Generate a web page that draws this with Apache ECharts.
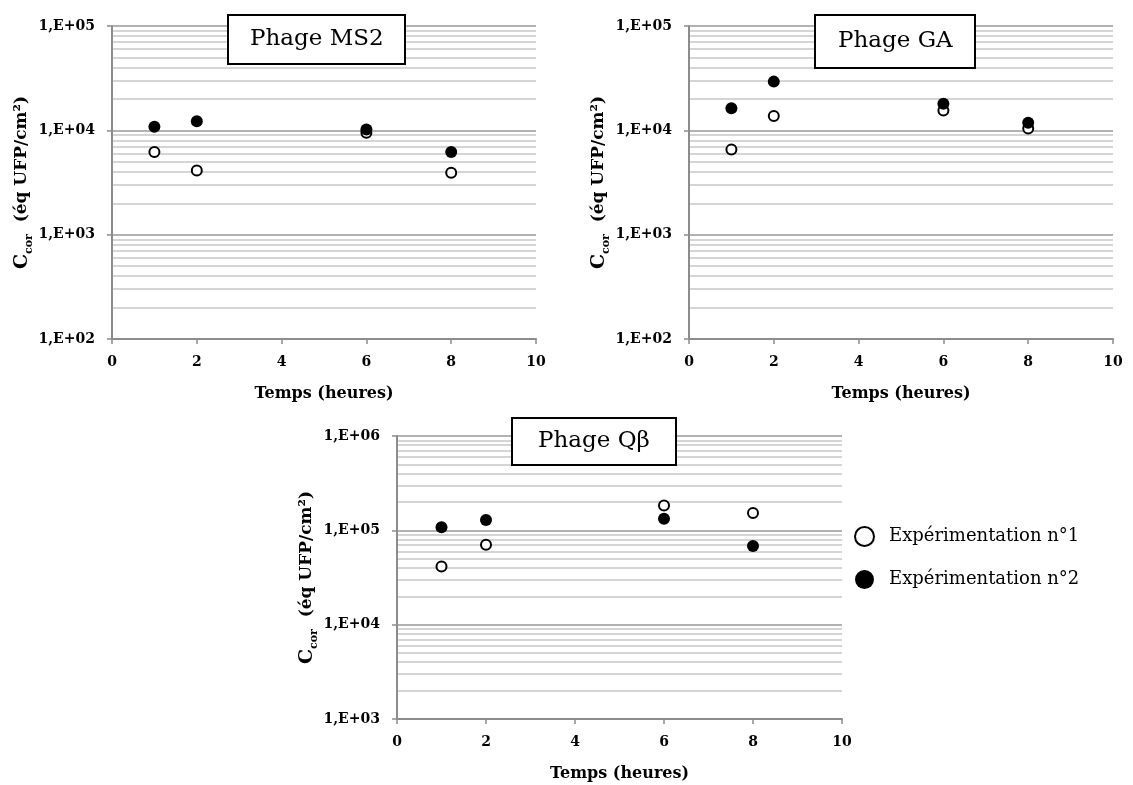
<!DOCTYPE html>
<html>
<head>
<meta charset="utf-8">
<script src="https://cdn.jsdelivr.net/npm/echarts@6/dist/echarts.min.js"></script>
<style>
  html, body { margin: 0; padding: 0; background: #fff; }
  #chart { width: 1133px; height: 785px; }
</style>
</head>
<body>
<div id="chart"></div>
<script>
// ---- data ----
const hours = [1, 2, 6, 8];
const seriesNames = ['Expérimentation n°1', 'Expérimentation n°2'];
const panelTitles = ['Phage MS2', 'Phage GA', 'Phage Qβ'];
const xAxisTitle = 'Temps (heures)';
const ms2Exp1 = [6200, 4130, 9500, 3930];
const ms2Exp2 = [10800, 12200, 10200, 6200];
const gaExp1 = [6560, 13700, 15500, 10400];
const gaExp2 = [16300, 29300, 18000, 11800];
const qbExp1 = [41400, 70500, 183000, 153000];
const qbExp2 = [108000, 129000, 133000, 68100];
const yRanges = [[1e2, 1e5], [1e2, 1e5], [1e3, 1e6]];

const FONT = 'DejaVu Serif';
const grids = [
  { left: 112, top: 26, width: 424, height: 313 },
  { left: 689, top: 26, width: 424, height: 313 },
  { left: 397, top: 436, width: 445, height: 283 }
];

function yLabel(v) {
  const e = Math.round(Math.log10(v));
  return '1,E+' + (e < 10 ? '0' : '') + e;
}

const xAxes = grids.map((g, i) => ({
  type: 'value', gridIndex: i, min: 0, max: 10, interval: 2,
  axisLine: { show: true, onZero: false, lineStyle: { color: '#8c8c8c', width: 2 } },
  axisTick: { show: true, length: 5, lineStyle: { color: '#8c8c8c', width: 1.5 } },
  splitLine: { show: false },
  axisLabel: { color: '#000', fontFamily: FONT, fontWeight: 'bold', fontSize: 14, margin: 16 },
  name: xAxisTitle, nameLocation: 'middle', nameGap: 47,
  nameTextStyle: { color: '#000', fontFamily: FONT, fontWeight: 'bold', fontSize: 16 }
}));

const yAxes = grids.map((g, i) => ({
  type: 'log', logBase: 10, gridIndex: i, min: yRanges[i][0], max: yRanges[i][1],
  axisLine: { show: true, lineStyle: { color: '#8c8c8c', width: 2 } },
  axisTick: { show: true, length: 5, lineStyle: { color: '#8c8c8c', width: 1.5 } },
  splitLine: { show: true, lineStyle: { color: '#999', width: 1.5 } },
  minorTick: { show: false, splitNumber: 9 },
  minorSplitLine: { show: true, lineStyle: { color: '#c8c8c8', width: 1.5 } },
  axisLabel: { color: '#000', fontFamily: FONT, fontWeight: 'bold', fontSize: 14, margin: 17, formatter: yLabel },
  name: '{c|C}{s|cor}{b|  (éq UFP/cm²)}',
  nameLocation: 'middle', nameGap: 74, nameRotate: 90,
  nameTextStyle: {
    color: '#000', fontFamily: FONT, fontWeight: 'bold',
    rich: {
      c: { fontFamily: FONT, fontWeight: 'bold', fontSize: 19, lineHeight: 26, color: '#000' },
      b: { fontFamily: FONT, fontWeight: 'bold', fontSize: 17, lineHeight: 26, color: '#000' },
      s: { fontFamily: FONT, fontWeight: 'bold', fontSize: 11, lineHeight: 26, verticalAlign: 'bottom', color: '#000' }
    }
  }
}));

const openStyle = { color: '#fff', borderColor: '#000', borderWidth: 2, opacity: 1 };
const fillStyle = { color: '#000', borderColor: '#000', borderWidth: 0, opacity: 1 };
const panelData = [[ms2Exp1, ms2Exp2], [gaExp1, gaExp2], [qbExp1, qbExp2]];
const series = [];
panelData.forEach((pair, i) => {
  pair.forEach((vals, k) => {
    series.push({
      name: seriesNames[k], type: 'scatter', xAxisIndex: i, yAxisIndex: i,
      symbol: 'circle', symbolSize: k === 0 ? 10 : 12,
      itemStyle: k === 0 ? openStyle : fillStyle,
      data: hours.map((h, j) => [h, vals[j]]),
      z: 3 + k
    });
  });
});

const titleBoxes = [
  { left: 228, top: 15, pad: [13, 22, 13, 22] },
  { left: 815, top: 15, pad: [15, 23, 15, 23] },
  { left: 512, top: 418, pad: [12, 26, 12, 26] }
];
const titles = panelTitles.map((t, i) => ({
  text: t, left: titleBoxes[i].left, top: titleBoxes[i].top,
  padding: titleBoxes[i].pad,
  borderColor: '#000', borderWidth: 2, backgroundColor: '#fff',
  textStyle: { fontFamily: FONT, fontWeight: 'normal', fontSize: 23, color: '#000' }
}));

const chart = echarts.init(document.getElementById('chart'), null, { renderer: 'canvas' });
chart.setOption({
  animation: false,
  backgroundColor: '#fff',
  title: titles,
  grid: grids,
  xAxis: xAxes,
  yAxis: yAxes,
  legend: {
    orient: 'vertical', left: 849, top: 521, itemWidth: 19, itemHeight: 19, itemGap: 23,
    icon: 'circle',
    data: [
      { name: seriesNames[0], itemStyle: openStyle },
      { name: seriesNames[1], itemStyle: fillStyle }
    ],
    textStyle: { fontFamily: FONT, fontSize: 18, color: '#000', padding: [0, 0, 0, 10] }
  },
  series: series
});
</script>
</body>
</html>
